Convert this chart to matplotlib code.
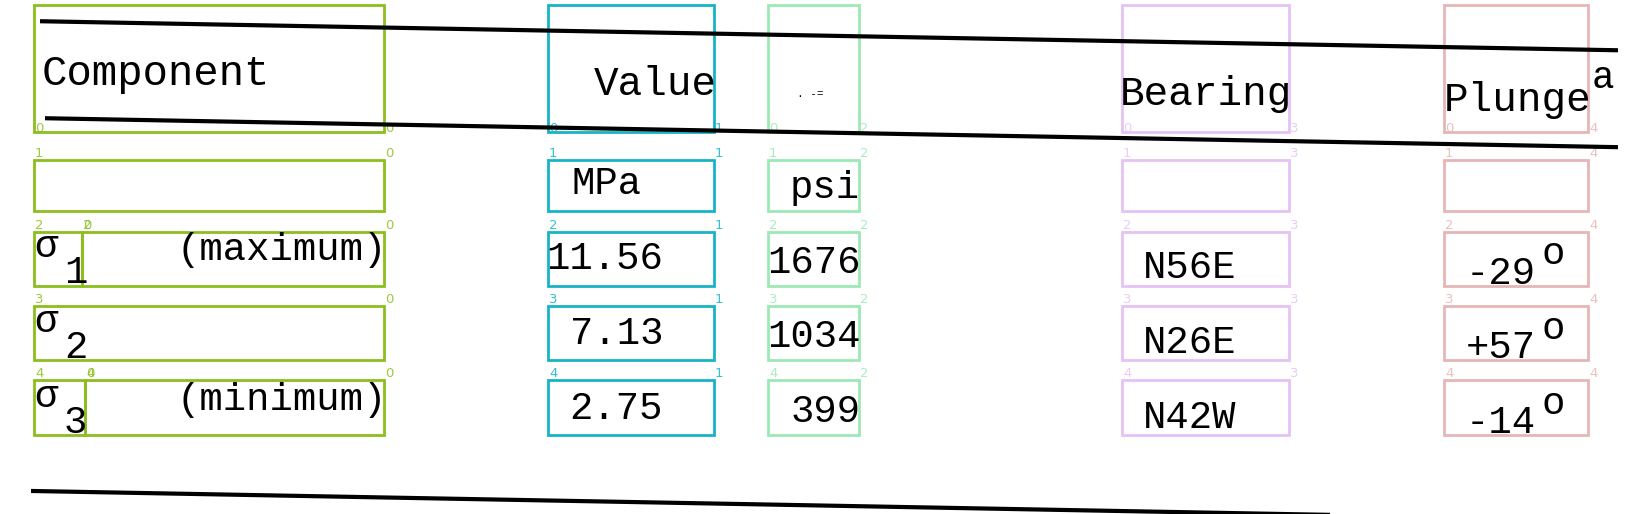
import matplotlib.pyplot as plt
from matplotlib.patches import Rectangle

# table content
headers = ["Component", "Value", "", "Bearing", "Plunge"]
units = ["", "MPa", "psi", "", ""]
sigma_sub = ["1", "2", "3"]
sigma_note = ["(maximum)", "", "(minimum)"]
value_mpa = [11.56, 7.13, 2.75]
value_psi = [1676, 1034, 399]
bearing = ["N56E", "N26E", "N42W"]
plunge = [-29, 57, -14]

# layout of the scanned page, in pixels
W, H = 1626, 514
col_x = [(34, 384), (548, 714), (768, 859), (1122, 1289), (1444, 1588)]
row_y = [(5, 132), (160, 211), (232, 286), (306, 360), (380, 435)]
sigma_split = {2: 82, 4: 85}
col_colors = ["#8cbf1e", "#17b4c6", "#9de9b6", "#e6c3f6", "#e6b6b6"]
skew = 0.0184                      # the scan is slightly rotated
row_base = [84, 183, 256.7, 331.5, 406.5]
rules = [(40, 1618, 20.5), (45, 1618, 117.4), (31, 1330, 490.4)]

MONO = ["Liberation Mono", "DejaVu Sans Mono"]

fig = plt.figure(figsize=(W / 100, H / 100), dpi=100)
ax = fig.add_axes([0, 0, 1, 1])
ax.set_xlim(0, W)
ax.set_ylim(H, 0)
ax.axis("off")


def box(x0, x1, r, c):
    y0, y1 = row_y[r]
    col = col_colors[c]
    ax.add_patch(Rectangle((x0, y0), x1 - x0, y1 - y0, fill=False,
                           edgecolor=col, linewidth=2.0, zorder=2))
    ly = y1 if r == 0 else y0 - 3
    ax.text(x0 + 1, ly, str(r), color=col, fontsize=9.5, alpha=0.85,
            va="baseline", ha="left", zorder=2)
    ax.text(x1 + 1, ly, str(c), color=col, fontsize=9.5, alpha=0.85,
            va="baseline", ha="left", zorder=2)


for c, (x0, x1) in enumerate(col_x):
    for r in range(len(row_y)):
        if c == 0 and r in sigma_split:
            box(x0, sigma_split[r], r, c)
            box(sigma_split[r], x1, r, c)
        else:
            box(x0, x1, r, c)

# black rules of the printed table
for xa, xb, y in rules:
    ax.plot([xa, xb], [y + skew * xa, y + skew * xb], color="black",
            linewidth=3.0, solid_capstyle="butt", zorder=3)


def put(x, r, s, dy=0, size=28, ha="left"):
    ax.text(x, row_base[r] + skew * x + dy, s, fontsize=size, family=MONO,
            color="black", ha=ha, va="baseline", zorder=4)


# header row
head_x = [42, 594, None, 1120, 1444]
head_size = [30.5, 29.5, 29.5, 29.5, 29.5]
for h, x, s in zip(headers, head_x, head_size):
    if h:
        put(x, 0, h, size=s)
put(1592, 0, "a", dy=-25, size=27)
ax.text(797, 97, ". -=", fontsize=8, family=MONO, color="black",
        va="baseline", ha="left", zorder=4)

# units row
put(571, 1, units[1])
put(790, 1, units[2])

# data rows
for i in range(3):
    r = i + 2
    put(34, r, "σ")
    put(64, r, sigma_sub[i], dy=25)
    if sigma_note[i]:
        put(176, r, sigma_note[i])
    put(663, r, f"{value_mpa[i]:.2f}", ha="right")
    put(861, r, f"{value_psi[i]}", ha="right")
    put(1143, r, bearing[i])
    put(1466, r, f"{plunge[i]:+d}")
    put(1541, r, "o", dy=-21, size=28)

fig.savefig("out.png", dpi=100)
